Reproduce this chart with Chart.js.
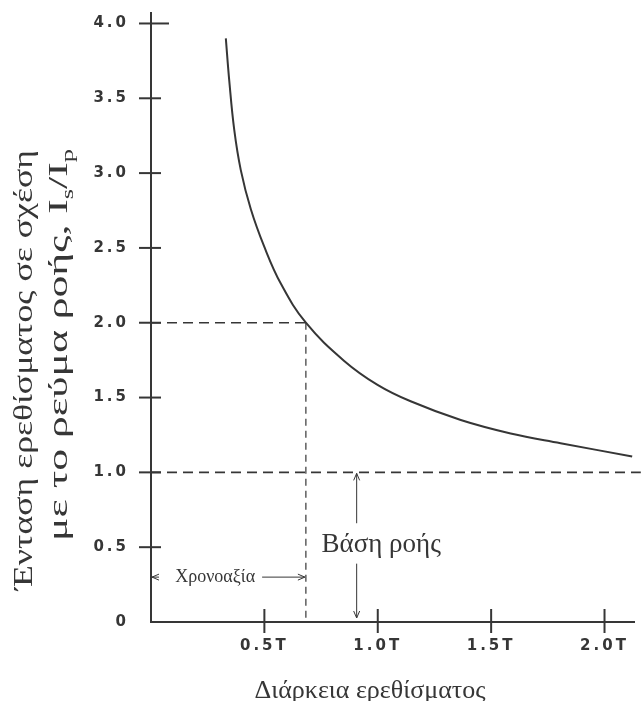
<!DOCTYPE html>
<html>
<head>
<meta charset="utf-8">
<script src="https://cdn.jsdelivr.net/npm/chart.js@4"></script>
<style>
  html, body { margin: 0; padding: 0; background: #fff; }
  #wrap { width: 644px; height: 701px; }
</style>
</head>
<body>
<div id="wrap"><canvas id="sdChart" width="644" height="701"></canvas></div>
<script>
// Strength-duration curve, values
const durationValues = [0.330, 0.345, 0.367, 0.396, 0.44, 0.499, 0.573, 0.683, 0.852, 0.999, 1.145, 1.366, 1.586, 1.806, 2.122];
const intensityValues = [3.90, 3.62, 3.29, 3.02, 2.76, 2.51, 2.26, 2.00, 1.745, 1.585, 1.475, 1.35, 1.26, 1.195, 1.106];

const chronaxie = 0.683;   // duration at twice the rheobase
const rheobase = 1.0;
const doubleRheobase = 2.0;

const yTickValues = [0, 0.5, 1.0, 1.5, 2.0, 2.5, 3.0, 3.5, 4.0];
const yTickLabels = ['0', '0.5', '1.0', '1.5', '2.0', '2.5', '3.0', '3.5', '4.0'];
const xTickValues = [0.5, 1.0, 1.5, 2.0];
const xTickLabels = ['0.5T', '1.0T', '1.5T', '2.0T'];

const ink = '#363636';
const serif = '"Liberation Serif", "DejaVu Serif", serif';

function arrowHead(ctx, x, y, dx, dy) {
    // open arrow head pointing along (dx, dy)
    const len = 7, w = 3;
    ctx.beginPath();
    ctx.moveTo(x - dx * len - dy * w, y - dy * len + dx * w);
    ctx.lineTo(x, y);
    ctx.lineTo(x - dx * len + dy * w, y - dy * len - dx * w);
    ctx.stroke();
}

// draw text pieces (with optional subscripts) stretched to a given width, centred on 0
function fitText(ctx, parts, size, width) {
    const big = size + 'px ' + serif, small = Math.round(size * 0.62) + 'px ' + serif;
    let total = 0;
    parts.forEach(([t, sub]) => { ctx.font = sub ? small : big; total += ctx.measureText(t).width; });
    ctx.scale(width / total, 1);
    let px = -total / 2;
    ctx.textAlign = 'left';
    parts.forEach(([t, sub]) => {
        ctx.font = sub ? small : big;
        ctx.fillText(t, px, sub ? size * 0.22 : 0);
        px += ctx.measureText(t).width;
    });
}

const annotations = {
    id: 'annotations',
    beforeDraw(chart) {
        chart.ctx.letterSpacing = '3px';
    },
    afterDraw(chart) {
        const ctx = chart.ctx;
        const xs = chart.scales.x, ys = chart.scales.y;
        const x0 = xs.getPixelForValue(0), y0 = ys.getPixelForValue(0);
        ctx.save();
        ctx.letterSpacing = '0px';
        ctx.strokeStyle = ink;
        ctx.fillStyle = ink;

        // tick marks crossing the axes
        ctx.lineWidth = 2;
        yTickValues.forEach(v => {
            if (v === 0) return;
            const p = ys.getPixelForValue(v);
            ctx.beginPath();
            ctx.moveTo(x0 - 12, p);
            ctx.lineTo(x0 + (v === 4.0 ? 18 : 10), p);
            ctx.stroke();
        });
        xTickValues.forEach(v => {
            const p = xs.getPixelForValue(v);
            ctx.beginPath();
            ctx.moveTo(p, y0 - 13);
            ctx.lineTo(p, y0 + 11);
            ctx.stroke();
        });

        // "Χρονοαξία" double arrow
        ctx.lineWidth = 1;
        const cy = ys.getPixelForValue(0.30);
        const cx = xs.getPixelForValue(chronaxie);
        ctx.beginPath();
        ctx.moveTo(x0 + 1, cy); ctx.lineTo(x0 + 8, cy);
        ctx.moveTo(xs.getPixelForValue(0.49), cy); ctx.lineTo(cx - 1, cy);
        ctx.stroke();
        arrowHead(ctx, x0 + 1, cy, -1, 0);
        arrowHead(ctx, cx - 1, cy, 1, 0);
        ctx.font = '18px ' + serif;
        ctx.textAlign = 'center';
        ctx.textBaseline = 'middle';
        ctx.fillText('Χρονοαξία', xs.getPixelForValue(0.283), cy);

        // "Βάση ροής" arrow
        const bx = xs.getPixelForValue(0.907);
        ctx.beginPath();
        ctx.moveTo(bx, ys.getPixelForValue(rheobase) + 1);
        ctx.lineTo(bx, ys.getPixelForValue(0.66));
        ctx.moveTo(bx, ys.getPixelForValue(0.39));
        ctx.lineTo(bx, y0 - 4);
        ctx.stroke();
        arrowHead(ctx, bx, ys.getPixelForValue(rheobase) + 1, 0, -1);
        arrowHead(ctx, bx, y0 - 4, 0, 1);
        ctx.font = '27px ' + serif;
        ctx.fillText('Βάση ροής', xs.getPixelForValue(1.015), ys.getPixelForValue(0.515));

        // x axis title
        ctx.font = '26px ' + serif;
        ctx.textBaseline = 'alphabetic';
        ctx.fillText('Διάρκεια ερεθίσματος', 370, 698);

        // y axis title, two rotated lines
        ctx.save();
        ctx.translate(32, 370);
        ctx.rotate(-Math.PI / 2);
        fitText(ctx, [['Ένταση ερεθίσματος σε σχέση', false]], 28, 440);
        ctx.restore();

        ctx.save();
        ctx.translate(67, 345);
        ctx.rotate(-Math.PI / 2);
        fitText(ctx, [['με το ρεύμα ροής, I', false], ['s', true], ['/I', false], ['p', true]], 28, 392);
        ctx.restore();

        ctx.restore();
    }
};

const ctx = document.getElementById('sdChart').getContext('2d');
const sdChart = new Chart(ctx, {
    type: 'scatter',
    data: {
        datasets: [
            {
                // threshold curve
                data: durationValues.map((d, i) => ({ x: d, y: intensityValues[i] })),
                showLine: true,
                tension: 0.4,
                borderColor: ink,
                borderWidth: 2,
                pointRadius: 0
            },
            {
                // rheobase level
                data: [{ x: 0, y: rheobase }, { x: 2.16, y: rheobase }],
                showLine: true,
                borderColor: ink,
                borderWidth: 1.6,
                borderDash: [10, 6],
                pointRadius: 0,
                clip: false
            },
            {
                // twice rheobase level
                data: [{ x: 0, y: doubleRheobase }, { x: chronaxie, y: doubleRheobase }],
                showLine: true,
                borderColor: ink,
                borderWidth: 1.6,
                borderDash: [10, 6],
                pointRadius: 0
            },
            {
                // chronaxie drop line
                data: [{ x: chronaxie, y: doubleRheobase }, { x: chronaxie, y: 0 }],
                showLine: true,
                borderColor: ink,
                borderWidth: 1.2,
                borderDash: [7, 5],
                pointRadius: 0
            }
        ]
    },
    options: {
        responsive: false,
        animation: false,
        layout: { padding: { left: 0, right: 10, top: 13, bottom: 0 } },
        plugins: {
            legend: { display: false },
            tooltip: { enabled: false }
        },
        scales: {
            x: {
                type: 'linear',
                min: 0,
                max: 2.13,
                afterFit: function(scale) { scale.height = 79; scale.paddingLeft = 0; scale.paddingRight = 0; },
                grid: { display: false },
                border: { display: true, color: ink, width: 2 },
                ticks: {
                    stepSize: 0.5,
                    includeBounds: false,
                    padding: 7,
                    color: ink,
                    font: { family: '"DejaVu Sans", sans-serif', size: 15, weight: 'bold' },
                    callback: function(value) {
                        const i = xTickValues.indexOf(value);
                        return i >= 0 ? xTickLabels[i] : '';
                    }
                }
            },
            y: {
                type: 'linear',
                min: 0,
                max: 4.07,
                afterFit: function(scale) { scale.width = 151; scale.paddingTop = 0; scale.paddingBottom = 0; },
                grid: { display: false },
                border: { display: true, color: ink, width: 2 },
                ticks: {
                    stepSize: 0.5,
                    includeBounds: false,
                    padding: 14,
                    color: ink,
                    font: { family: '"DejaVu Sans", sans-serif', size: 15, weight: 'bold' },
                    callback: function(value) {
                        const i = yTickValues.indexOf(value);
                        return i >= 0 ? yTickLabels[i] : '';
                    }
                }
            }
        }
    },
    plugins: [annotations]
});
</script>
</body>
</html>
